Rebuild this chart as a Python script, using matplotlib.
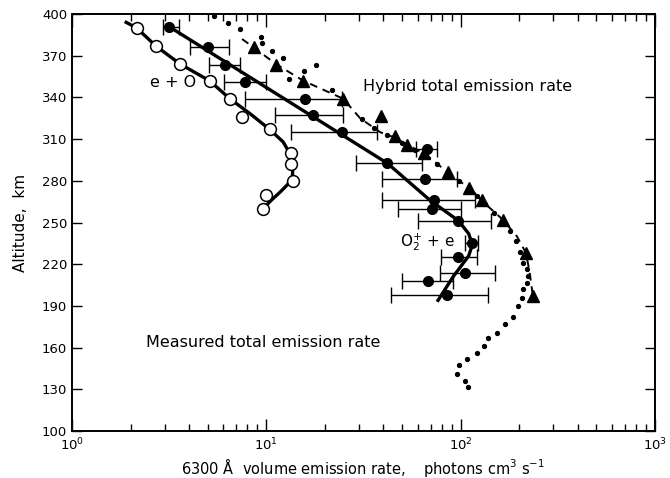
import matplotlib
matplotlib.use('Agg')
import matplotlib.pyplot as plt
from matplotlib.ticker import LogLocator, FixedLocator, NullFormatter

# ---- e + O (open circles) ----
eo_rate = [2.15, 2.7, 3.6, 5.1, 6.5, 7.5, 10.4, 13.4, 13.4, 13.7, 10.0, 9.6]
eo_alt = [390, 377, 364, 352, 339, 326, 317, 300, 292, 280, 270, 260]
eo_curve_rate = [1.9, 2.15, 2.7, 3.6, 5.1, 6.5, 8.3, 10.4, 12.2, 13.3, 13.7, 13.6, 12.8, 11.8, 10.6, 9.8]
eo_curve_alt = [394, 390, 377, 364, 352, 339, 328, 317, 308, 299, 290, 282, 277, 272, 266, 261]

# ---- O2+ + e (filled circles with error bars) ----
o2_alt = [391, 376, 363, 351, 339, 327, 315, 303, 293, 281, 266, 260, 251, 235, 225.5, 214, 208, 198]
o2_rate = [3.15, 5.0, 6.1, 7.8, 15.9, 17.3, 24.4, 66.9, 42.0, 65.6, 73, 71, 96.6, 115, 97.4, 105, 68, 85.4]
o2_lo = [2.93, 4.05, 5.07, 6.06, 7.8, 11.1, 13.4, 58.9, 29, 39.5, 39.5, 47.4, 60, 105, 79, 78.6, 49.8, 43.6]
o2_hi = [3.55, 6.4, 7.33, 9.97, 24.5, 24.8, 37.1, 75.9, 63, 95.6, 119, 100, 144, 123, 121, 150, 91, 139]
o2_curve_rate = [3.07, 42, 69.6, 97.4, 110, 115, 110, 91.5, 76.5]
o2_curve_alt = [392, 292.6, 266, 251.3, 242, 234, 226, 211, 194]

# ---- Hybrid total (triangles + dashed) ----
hy_rate = [8.6, 11.2, 15.5, 24.9, 38.8, 45.9, 52.9, 65, 85.6, 110, 129, 165, 217, 235]
hy_alt = [376, 363, 352, 339, 326.6, 312, 306, 300, 286, 275, 266, 252, 228, 197]
hy_curve_rate = [7.5, 8.6, 11.2, 15.5, 24.9, 30.4, 38.5, 46, 53, 66, 86, 110, 130, 165, 195, 217, 226, 235]
hy_curve_alt = [382, 376, 364, 352, 339, 325, 315, 311, 306, 299, 286, 275, 265, 252, 240, 228, 215, 198]

# ---- Measured total (dots) ----
ms_rate = [5.4, 6.37, 7.35, 9.41, 9.55, 10.7, 12.2, 18.1, 15.7, 13.1, 21.7, 30.9,
           36, 42, 50, 58, 66, 76, 86, 98, 110, 122, 134, 148, 165, 180, 193, 203,
           208.7, 218.9, 223, 218.9, 210, 206, 198, 185, 169, 154, 138, 132, 121, 108,
           98.5, 95.5, 105.3, 109.6]
ms_alt = [398.6, 393.7, 389, 383.7, 379.4, 373.6, 368, 363.5, 358.8, 353, 345.3, 324.5,
          318, 313, 307, 302, 298, 292, 286, 280, 275, 269, 263, 257, 251, 244, 237, 229,
          221, 216.3, 211.5, 206.7, 202, 195.5, 190, 182.2, 177, 170.7, 167, 161, 156, 151.6,
          147.5, 140.8, 136.2, 131.4]

y_ticks = [100, 130, 160, 190, 220, 250, 280, 310, 340, 370, 400]

fig = plt.figure(figsize=(6.7, 4.78), dpi=100)
ax = fig.add_axes([0.1075, 0.0983, 0.870, 0.8724])
ax.set_xscale('log')
ax.set_xlim(1, 1000)
ax.set_ylim(100, 400)

# measured dots
ax.plot(ms_rate, ms_alt, linestyle='none', marker='o', markersize=2.8, color='black')
# hybrid dashed + triangles
ax.plot(hy_curve_rate, hy_curve_alt, linestyle=(0, (4, 3)), color='black', linewidth=1.4)
ax.plot(hy_rate, hy_alt, linestyle='none', marker='^', markersize=8, color='black')
# e+O
ax.plot(eo_curve_rate, eo_curve_alt, color='black', linewidth=2.4)
ax.plot(eo_rate, eo_alt, linestyle='none', marker='o', markersize=8.5,
        markerfacecolor='white', markeredgecolor='black', markeredgewidth=1.1)
# O2+ + e
ax.plot(o2_curve_rate, o2_curve_alt, color='black', linewidth=2.4)
xerr = [[r - l for r, l in zip(o2_rate, o2_lo)], [h - r for r, h in zip(o2_rate, o2_hi)]]
ax.errorbar(o2_rate, o2_alt, xerr=xerr, fmt='o', color='black', markersize=7,
            elinewidth=1.0, capsize=5.5, capthick=1.0)

ax.text(3.3, 351, 'e + O', fontsize=11.5, ha='center', va='center')
ax.text(31.4, 347.5, 'Hybrid total emission rate', fontsize=11.5, ha='left', va='center')
ax.text(38.5, 164, 'Measured total emission rate', fontsize=11.5, ha='right', va='center')
ax.text(48.8, 236, r'O$_2^{+}$ + e', fontsize=11, ha='left', va='center')

ax.yaxis.set_major_locator(FixedLocator(y_ticks))
ax.xaxis.set_major_locator(LogLocator(base=10, numticks=10))
ax.xaxis.set_minor_locator(LogLocator(base=10, subs=range(2, 10), numticks=20))
ax.xaxis.set_minor_formatter(NullFormatter())
ax.tick_params(which='both', direction='in', top=True, right=True, labelsize=9.5, width=1)
ax.tick_params(axis='x', which='major', length=9, pad=4)
ax.tick_params(axis='x', which='minor', length=5)
ax.tick_params(axis='y', which='major', length=7)
for s in ax.spines.values():
    s.set_linewidth(1.4)

ax.set_xlabel(r'6300 Å  volume emission rate,    photons cm$^{3}$ s$^{-1}$', fontsize=10.5, labelpad=2)
ax.set_ylabel('Altitude,  km', fontsize=11, labelpad=10)

fig.savefig('out.png', dpi=100)
